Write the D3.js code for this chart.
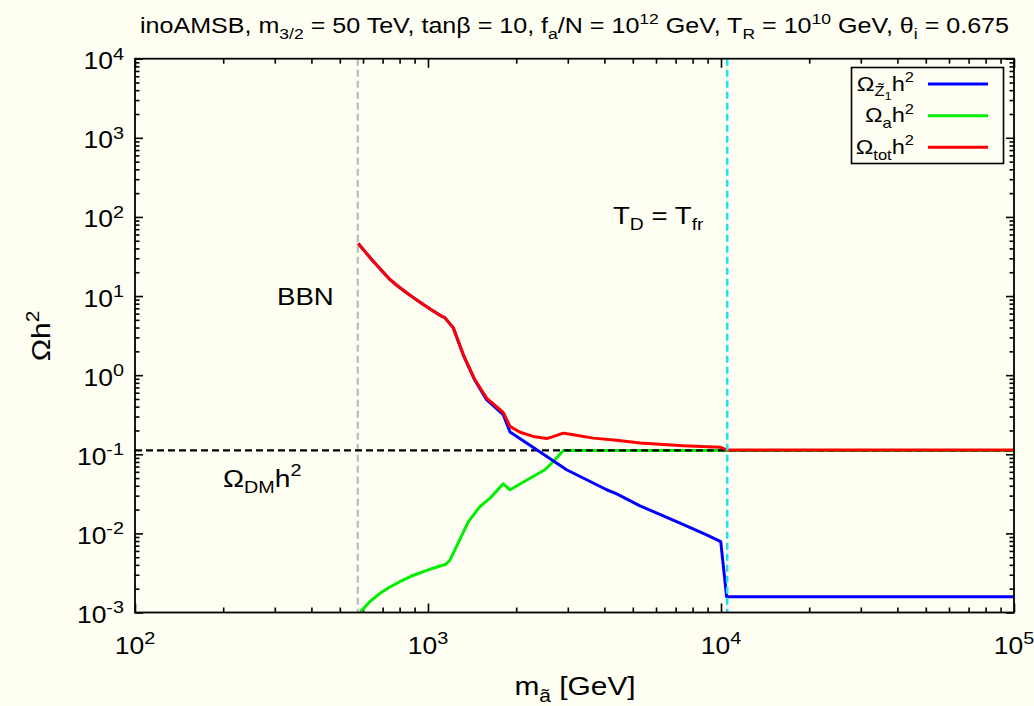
<!DOCTYPE html>
<html><head><meta charset="utf-8">
<script src="https://cdn.jsdelivr.net/npm/d3@7"></script>
<style>
html,body{margin:0;padding:0;background:#fefef2;}
svg{display:block;}
text{font-family:"Liberation Sans",Arial,Helvetica,sans-serif;fill:#000;}
</style></head><body>
<svg id="chart" width="1034" height="706"></svg>
<script>
// Neutralino relic density vs axino mass
const massZ1 = [578, 609.5, 650, 691, 741, 790, 845, 899, 964, 1032, 1114, 1143, 1220, 1319, 1445, 1585, 1806, 1905, 2350, 2972, 4073, 4406, 5293, 7249, 8933, 9980, 10450, 100000];
const omegaZ1 = [46.2, 36.4, 27.6, 21.5, 16.2, 13.3, 11.0, 9.35, 7.8, 6.63, 5.55, 5.3, 3.96, 1.81, 0.86, 0.49, 0.316, 0.191, 0.114, 0.0637, 0.0356, 0.0316, 0.0223, 0.01345, 0.00957, 0.00787, 0.00158, 0.00158];
// Axion relic density
const massAxion = [586, 629, 686, 741, 801, 875, 964, 1052, 1151, 1189, 1374, 1503, 1629, 1806, 1905, 2506, 2679, 2897, 100000];
const omegaAxion = [0.001, 0.00134, 0.00175, 0.0021, 0.00245, 0.00287, 0.00328, 0.00368, 0.00407, 0.00462, 0.0141, 0.0218, 0.0279, 0.0424, 0.0356, 0.0637, 0.081, 0.112, 0.112];
// Total relic density
const massTot = [578, 609.5, 650, 691, 741, 790, 845, 899, 964, 1032, 1114, 1143, 1220, 1319, 1445, 1585, 1806, 1905, 2061, 2285, 2541, 2643, 2897, 3133, 3664, 4406, 5293, 7430, 9930, 10450, 100000];
const omegaTot = [46.2, 36.4, 27.6, 21.5, 16.2, 13.3, 11.0, 9.35, 7.8, 6.63, 5.55, 5.3, 3.96, 1.82, 0.88, 0.514, 0.338, 0.225, 0.19, 0.168, 0.158, 0.165, 0.185, 0.177, 0.16, 0.15, 0.139, 0.128, 0.123, 0.1136, 0.1136];
// Reference levels
const omegaDM = 0.112;
const massBBN = 576;
const massTfr = 10500;
const xTickExps = [2, 3, 4, 5];
const yTickExps = [-3, -2, -1, 0, 1, 2, 3, 4];

const SX = 1.15;           // horizontal stretch of the lettering
const L = 135, R = 1014, T = 58.7, B = 612.5;

const svg = d3.select("#chart");
svg.append("rect").attr("width", 1034).attr("height", 706).attr("fill", "#fefef2");

const x = d3.scaleLog().domain([1e2, 1e5]).range([L, R]);
const y = d3.scaleLog().domain([1e-3, 1e4]).range([B, T]);

// rich text: parts = [[string, level]], level 0 normal, 1 sup, -1 sub, -2 sub of sub
function rich(parent, px, py, parts, size, anchor, rotate, supScale) {
  const g = parent.append("g")
    .attr("transform", `translate(${px},${py})` + (rotate ? ` rotate(${rotate})` : "") + ` scale(${SX},1)`);
  const t = g.append("text").attr("text-anchor", anchor).attr("font-size", size);
  const offs = {"0": 0, "1": -0.42 * size, "-1": 0.28 * size, "-2": 0.48 * size};
  let cur = 0;
  parts.forEach(([s, lvl]) => {
    const fs = lvl === 0 ? size : (lvl === -2 ? size * 0.55 : (lvl === 1 && supScale ? size * supScale : size * 0.7));
    const off = offs[String(lvl)];
    t.append("tspan").attr("font-size", fs).attr("dy", off - cur).text(s);
    cur = off;
  });
  return t;
}

// clip region
svg.append("clipPath").attr("id", "plot").append("rect")
  .attr("x", L).attr("y", T).attr("width", R - L).attr("height", B - T);

// tick marks via d3 axes
const minorVals = (lo, hi) => {
  const v = [];
  for (let e = lo; e < hi; e++) for (let k = 2; k <= 9; k++) v.push(k * Math.pow(10, e));
  return v;
};
const xMaj = xTickExps.map(e => Math.pow(10, e));
const yMaj = yTickExps.map(e => Math.pow(10, e));
const xMin = minorVals(2, 5), yMin = minorVals(-3, 4);

function axisG(axis, tx, ty) {
  const g = svg.append("g").attr("transform", `translate(${tx},${ty})`).call(axis);
  g.select(".domain").remove();
  g.selectAll("text").remove();
  g.selectAll("line").attr("stroke", "#000").attr("stroke-width", 1.6);
  return g;
}
axisG(d3.axisBottom(x).tickValues(xMaj).tickSize(-9).tickFormat(""), 0, B);
axisG(d3.axisBottom(x).tickValues(xMin).tickSize(-5).tickFormat(""), 0, B);
axisG(d3.axisTop(x).tickValues(xMaj).tickSize(-9).tickFormat(""), 0, T);
axisG(d3.axisTop(x).tickValues(xMin).tickSize(-5).tickFormat(""), 0, T);
axisG(d3.axisLeft(y).tickValues(yMaj).tickSize(-8).tickFormat(""), L, 0);
axisG(d3.axisLeft(y).tickValues(yMin).tickSize(-4.5).tickFormat(""), L, 0);
axisG(d3.axisRight(y).tickValues(yMaj).tickSize(-8).tickFormat(""), R, 0);
axisG(d3.axisRight(y).tickValues(yMin).tickSize(-4.5).tickFormat(""), R, 0);

// tick labels
xTickExps.forEach(e => rich(svg, x(Math.pow(10, e)), 654, [["10", 0], [String(e), 1]], 23, "middle", 0, 0.75));
yTickExps.forEach(e => rich(svg, 124, y(Math.pow(10, e)) + 10.5, [["10", 0], [String(e), 1]], 23, "end", 0, 0.75));

// curves
const plot = svg.append("g").attr("clip-path", "url(#plot)");
const line = d3.line().x(d => x(d[0])).y(d => y(d[1]));
const zip = (a, b) => a.map((v, i) => [v, b[i]]);

plot.append("line")
  .attr("x1", x(massBBN)).attr("x2", x(massBBN)).attr("y1", T).attr("y2", B)
  .attr("stroke", "#c0c0c0").attr("stroke-width", 2.4).attr("stroke-dasharray", "7,4");

plot.append("path").attr("d", line(zip(massAxion, omegaAxion)))
  .attr("fill", "none").attr("stroke", "#00ee00").attr("stroke-width", 3).attr("stroke-linejoin", "round");

plot.append("line")
  .attr("x1", L).attr("x2", R).attr("y1", y(omegaDM)).attr("y2", y(omegaDM))
  .attr("stroke", "#000").attr("stroke-width", 2.4).attr("stroke-dasharray", "7,4");

plot.append("path").attr("d", line(zip(massZ1, omegaZ1)))
  .attr("fill", "none").attr("stroke", "#0000ff").attr("stroke-width", 3).attr("stroke-linejoin", "round");

plot.append("path").attr("d", line(zip(massTot, omegaTot)))
  .attr("fill", "none").attr("stroke", "#ff0000").attr("stroke-width", 3).attr("stroke-linejoin", "round");

plot.append("line")
  .attr("x1", x(massTfr)).attr("x2", x(massTfr)).attr("y1", T).attr("y2", B)
  .attr("stroke", "#22e0f0").attr("stroke-width", 2.6).attr("stroke-dasharray", "7,4");

// frame
svg.append("rect").attr("x", L).attr("y", T).attr("width", R - L).attr("height", B - T)
  .attr("fill", "none").attr("stroke", "#000").attr("stroke-width", 1.8);

// annotations
rich(svg, 277, 304.5, [["BBN", 0]], 24, "start");
rich(svg, 613, 223.5, [["T", 0], ["D", -1], [" = T", 0], ["fr", -1]], 24, "start");
rich(svg, 223, 486.5, [["Ω", 0], ["DM", -1], ["h", 0], ["2", 1]], 24.5, "start");

// title and axis titles
rich(svg, 574.5, 33, [["inoAMSB, m", 0], ["3/2", -1], [" = 50 TeV, tanβ = 10, f", 0], ["a", -1], ["/N = 10", 0], ["12", 1],
  [" GeV, T", 0], ["R", -1], [" = 10", 0], ["10", 1], [" GeV, θ", 0], ["i", -1], [" = 0.675", 0]], 21.8, "middle");
rich(svg, 575, 695, [["m", 0], ["a\u0303", -1], [" [GeV]", 0]], 26, "middle");
rich(svg, 50, 336, [["Ωh", 0], ["2", 1]], 26, "middle", -90);

// legend
const lg = svg.append("g");
lg.append("rect").attr("x", 851.5).attr("y", 67.5).attr("width", 152).attr("height", 96)
  .attr("fill", "#fefef2").attr("stroke", "#000").attr("stroke-width", 1.6);
const legendItems = [
  {parts: [["Ω", 0], ["Z\u0303", -1], ["1", -2], ["h", 0], ["2", 1]], color: "#0000ff", ly: 84},
  {parts: [["Ω", 0], ["a", -1], ["h", 0], ["2", 1]], color: "#00ee00", ly: 115.7},
  {parts: [["Ω", 0], ["tot", -1], ["h", 0], ["2", 1]], color: "#ff0000", ly: 147.3}
];
legendItems.forEach(it => {
  rich(lg, 914, it.ly + 6.5, it.parts, 20.5, "end");
  lg.append("line").attr("x1", 928).attr("x2", 988).attr("y1", it.ly).attr("y2", it.ly)
    .attr("stroke", it.color).attr("stroke-width", 3);
});
</script>
</body></html>
